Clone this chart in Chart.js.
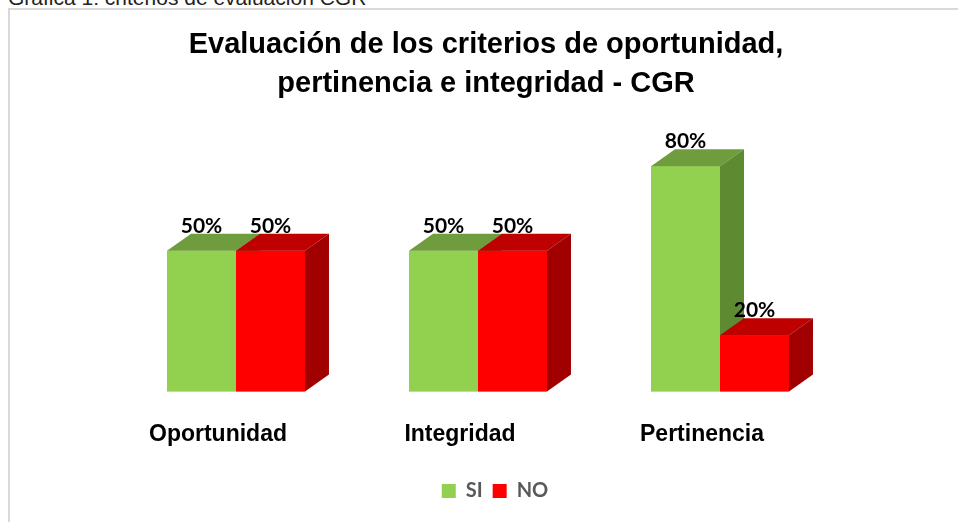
<!DOCTYPE html>
<html>
<head>
<meta charset="utf-8">
<script src="https://cdn.jsdelivr.net/npm/chart.js@4.4.1/dist/chart.umd.min.js"></script>
<style>
    html, body { margin: 0; padding: 0; background: #fff; overflow: hidden; }
    body { width: 958px; height: 522px; position: relative; }
    .caption {
        position: absolute; left: 8px; top: -13px;
        font: 21px/21px 'Liberation Sans', Arial, sans-serif; color: #222;
        white-space: nowrap;
    }
    .frame {
        position: absolute; left: 8px; top: 8px; width: 980px; height: 600px;
        border-top: 2px solid #d9d9d9; border-left: 2px solid #d9d9d9;
    }
    .wrap { position: absolute; left: 0; top: 0; width: 958px; height: 522px; }
</style>
</head>
<body>
<div class="caption">Gráfica 1: criterios de evaluación CGR</div>
<div class="frame"></div>
<div class="wrap"><canvas id="criteriosChart"></canvas></div>
<script>
'use strict';

const categories = ['Oportunidad', 'Integridad', 'Pertinencia'];
const siValues = [50, 50, 80];
const noValues = [50, 50, 20];
const seriesNames = ['SI', 'NO'];

// colores de cara frontal, superior y lateral
const faces = [
    { front: '#92D050', top: '#6F9C3D', side: '#5E8A32' },
    { front: '#FF0000', top: '#BF0000', side: '#A00000' }
];
const depthX = 24;
const depthY = 17;

function fillPoly(ctx, pts, color) {
    ctx.beginPath();
    ctx.moveTo(pts[0][0], pts[0][1]);
    for (let i = 1; i < pts.length; i++) ctx.lineTo(pts[i][0], pts[i][1]);
    ctx.closePath();
    ctx.fillStyle = color;
    ctx.fill();
}

const bars3d = {
    id: 'bars3d',
    afterLayout(chart) {
        // centrar título y leyenda como en la imagen original
        chart.titleBlock.left += 8;
        chart.titleBlock.right += 8;
        chart.legend.left += 17;
        chart.legend.right += 17;
    },
    afterDatasetsDraw(chart) {
        const ctx = chart.ctx;
        ctx.save();
        // SI primero y NO encima, cada barra con su cara superior y lateral
        chart.data.datasets.forEach((ds, i) => {
            const col = faces[i];
            chart.getDatasetMeta(i).data.forEach(bar => {
                bar.draw(ctx);
                const p = bar.getProps(['x', 'y', 'base', 'width'], true);
                const l = p.x - p.width / 2;
                const r = p.x + p.width / 2;
                fillPoly(ctx, [[l, p.y], [l + depthX, p.y - depthY], [r + depthX, p.y - depthY], [r, p.y]], col.top);
                fillPoly(ctx, [[r, p.y], [r + depthX, p.y - depthY], [r + depthX, p.base - depthY], [r, p.base]], col.side);
            });
        });

        ctx.font = 'bold 21px Lato, sans-serif';
        ctx.fillStyle = '#000';
        ctx.textAlign = 'center';
        ctx.textBaseline = 'alphabetic';
        chart.data.datasets.forEach((ds, i) => {
            chart.getDatasetMeta(i).data.forEach((bar, j) => {
                ctx.fillText(ds.data[j] + '%', bar.x, bar.y - depthY - 1);
            });
        });
        ctx.restore();
    }
};

const ctx = document.getElementById('criteriosChart').getContext('2d');

new Chart(ctx, {
    type: 'bar',
    data: {
        labels: categories,
        datasets: [{
            label: seriesNames[0],
            data: siValues,
            backgroundColor: faces[0].front,
            borderWidth: 0
        }, {
            label: seriesNames[1],
            data: noValues,
            backgroundColor: faces[1].front,
            borderWidth: 0
        }]
    },
    options: {
        responsive: true,
        maintainAspectRatio: false,
        animation: false,
        layout: {
            padding: { top: 20, left: 115, right: 117, bottom: 11 }
        },
        datasets: {
            bar: { barPercentage: 1, categoryPercentage: 0.57 }
        },
        scales: {
            x: {
                grid: { display: false, drawTicks: false },
                border: { display: false },
                ticks: {
                    color: '#000',
                    font: { family: "'Liberation Sans', Arial", size: 23, weight: 'bold' },
                    padding: 29,
                    labelOffset: -18
                },
                afterFit(scale) {
                    scale.height = 79.5;
                }
            },
            y: {
                display: false,
                min: 0,
                max: 100
            }
        },
        plugins: {
            title: {
                display: true,
                text: ['Evaluación de los criterios de oportunidad,', 'pertinencia e integridad - CGR'],
                color: '#000',
                font: { family: "'Liberation Sans', Arial", size: 29, weight: 'bold', lineHeight: 1.345 },
                padding: { top: 5.5, bottom: 6.5 }
            },
            legend: {
                position: 'bottom',
                labels: {
                    color: '#595959',
                    boxWidth: 14,
                    boxHeight: 14,
                    padding: 10,
                    font: { family: 'Lato', size: 20, weight: 'bold' }
                }
            },
            tooltip: { enabled: false }
        }
    },
    plugins: [bars3d]
});
</script>
</body>
</html>
